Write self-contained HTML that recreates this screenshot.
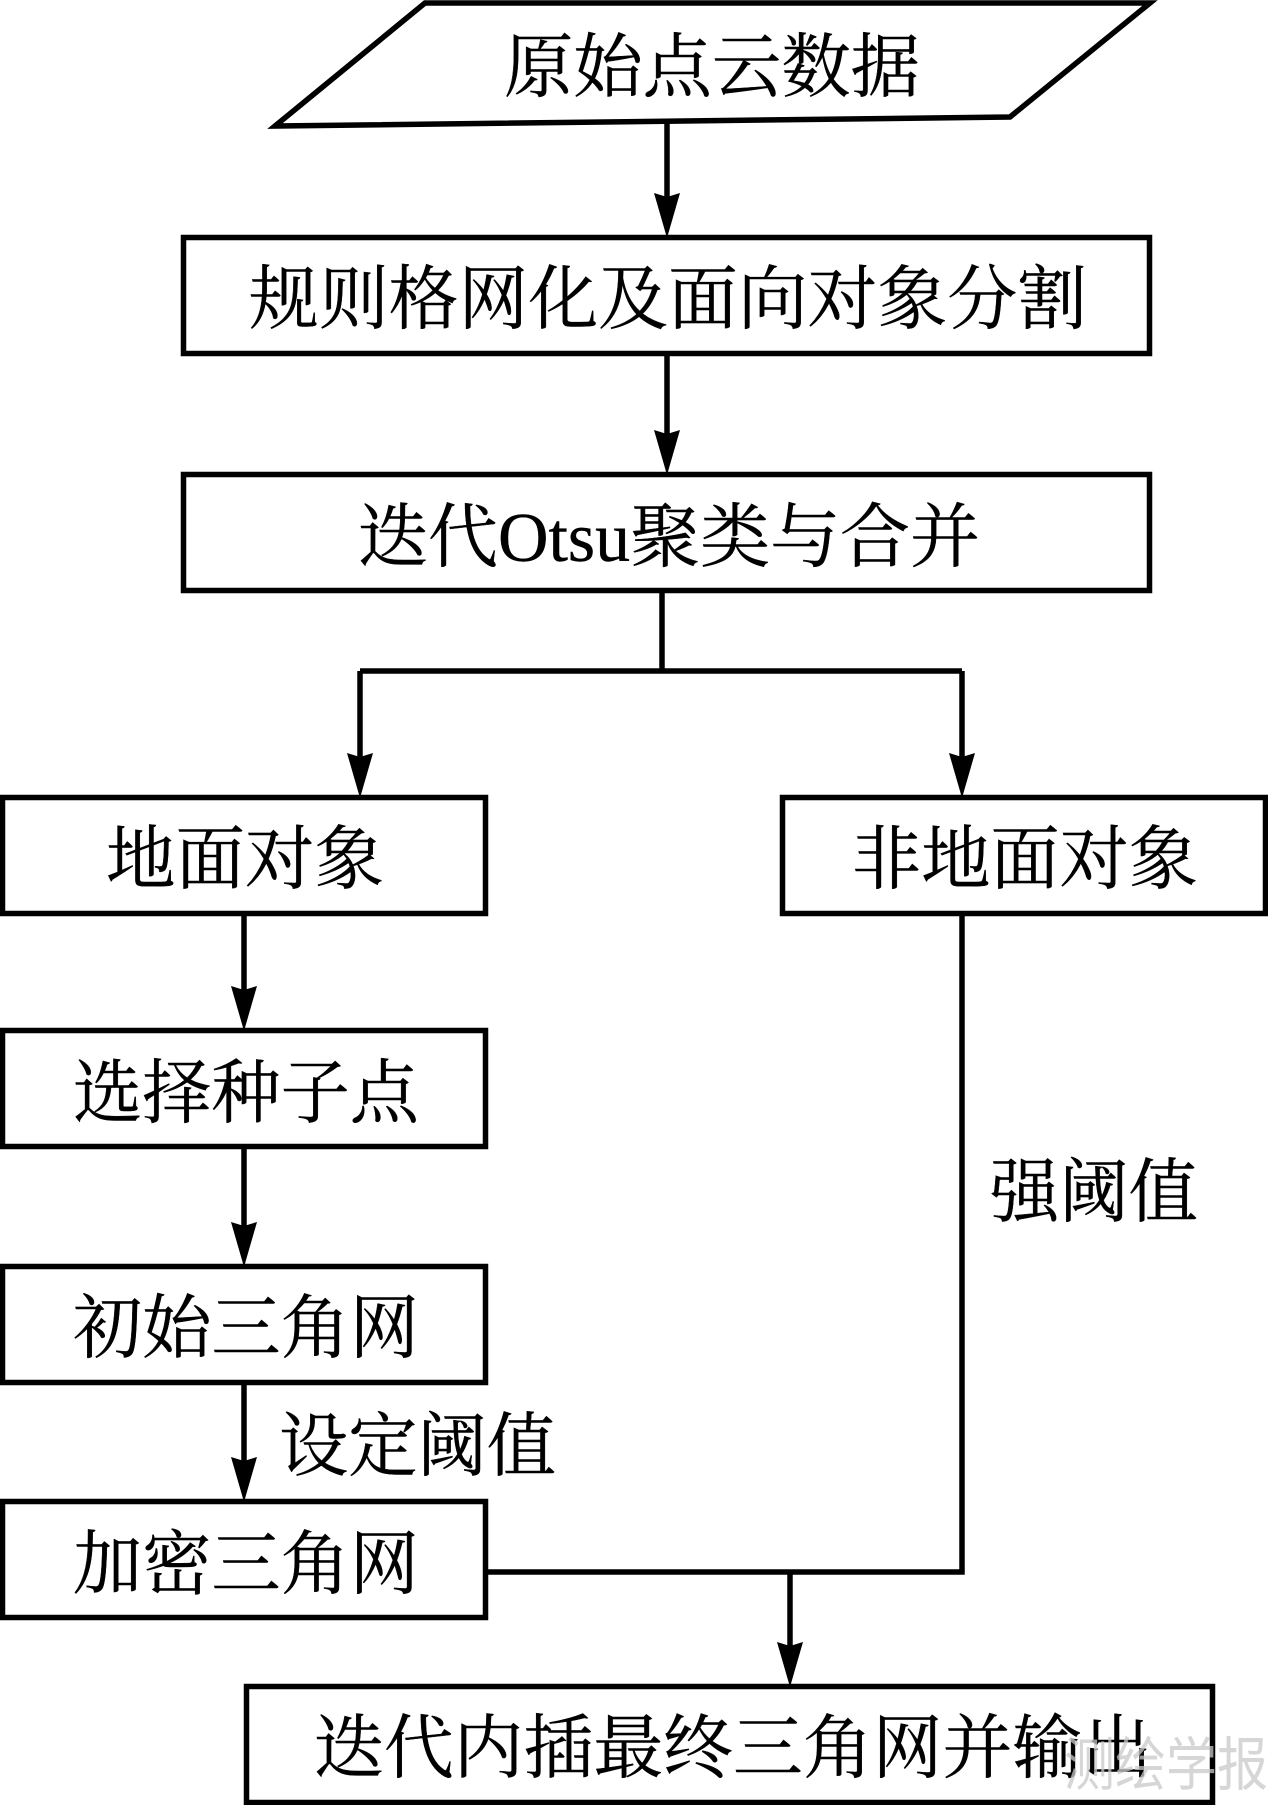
<!DOCTYPE html>
<html><head><meta charset="utf-8"><style>
html,body{margin:0;padding:0;background:#fff}
svg{display:block}
text{font-family:"Liberation Serif","Noto Serif CJK SC",serif;font-size:70px;fill:#000;text-anchor:start;stroke:#000;stroke-width:.4px}
</style></head><body>
<svg width="1268" height="1805" viewBox="0 0 1268 1805" xmlns="http://www.w3.org/2000/svg">
<rect width="1268" height="1805" fill="#fff"/>
<g fill="none" stroke="#000" stroke-width="5.500">
<polygon points="425,3 1150,3 1010,117 275,126"/>
<rect x="183.500" y="237.500" width="966" height="116"/>
<rect x="183.500" y="474.500" width="966" height="116"/>
<rect x="2.500" y="797.500" width="483" height="116"/>
<rect x="782.500" y="797.500" width="483" height="116"/>
<rect x="2.500" y="1030.500" width="483" height="116"/>
<rect x="2.500" y="1266.500" width="483" height="116"/>
<rect x="2.500" y="1501.500" width="483" height="116"/>
<rect x="246.500" y="1686.500" width="966" height="116"/>
<path d="M667 120V205M667 354V440M662 591V671M360 671H962M360 671V760M962 671V760M244 914V1000M244 1147V1235M244 1383V1470M962 914V1572H487M790 1572V1650" stroke-width="5.500"/>
</g>
<g fill="#000">
<polygon points="667,238 654,193 667,197 680,193"/>
<polygon points="667,475 654,430 667,434 680,430"/>
<polygon points="360,798 347,753 360,757 373,753"/>
<polygon points="962,798 949,753 962,757 975,753"/>
<polygon points="244,1031 231,986 244,990 257,986"/>
<polygon points="244,1267 231,1222 244,1226 257,1222"/>
<polygon points="244,1502 231,1457 244,1461 257,1457"/>
<polygon points="790,1687 777,1642 790,1646 803,1642"/>
</g>
<text x="504" y="91" textLength="416" lengthAdjust="spacingAndGlyphs">原始点云数据</text>
<text x="249" y="323" textLength="838" lengthAdjust="spacingAndGlyphs">规则格网化及面向对象分割</text>
<text x="358" y="561" textLength="622" lengthAdjust="spacingAndGlyphs">迭代Otsu聚类与合并</text>
<text x="106" y="883" textLength="278" lengthAdjust="spacingAndGlyphs">地面对象</text>
<text x="852" y="883" textLength="346" lengthAdjust="spacingAndGlyphs">非地面对象</text>
<text x="73" y="1117" textLength="346" lengthAdjust="spacingAndGlyphs">选择种子点</text>
<text x="73" y="1352" textLength="346" lengthAdjust="spacingAndGlyphs">初始三角网</text>
<text x="73" y="1588" textLength="346" lengthAdjust="spacingAndGlyphs">加密三角网</text>
<text x="279" y="1470" textLength="277" lengthAdjust="spacingAndGlyphs">设定阈值</text>
<text x="990" y="1216" textLength="208" lengthAdjust="spacingAndGlyphs">强阈值</text>
<text x="314" y="1772" textLength="838" lengthAdjust="spacingAndGlyphs">迭代内插最终三角网并输出</text>
<text x="1064" y="1785" textLength="204" lengthAdjust="spacingAndGlyphs" style="font-family:'Noto Sans CJK SC',sans-serif;font-size:58px;fill:#c8c8c8;fill-opacity:.75;stroke:none">测绘学报</text>
</svg>
</body></html>
